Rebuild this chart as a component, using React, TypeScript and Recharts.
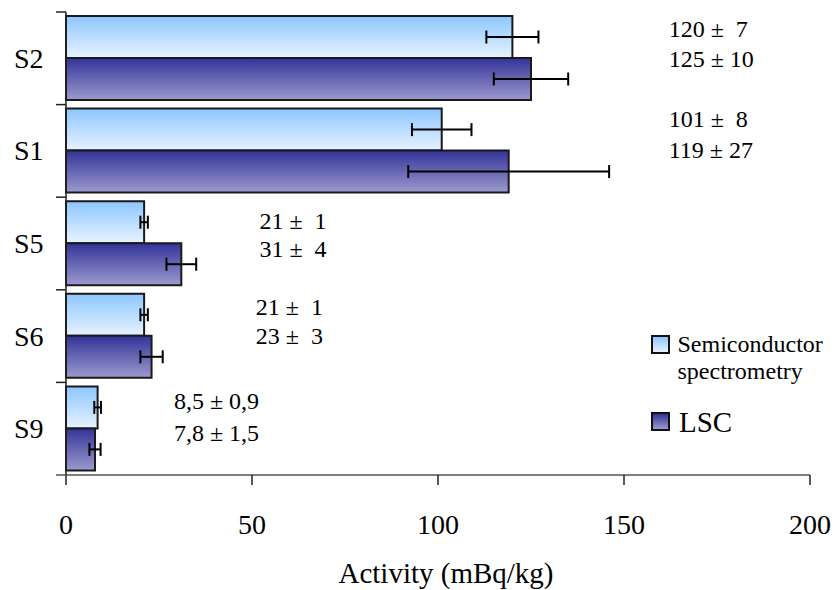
import React from 'react';
import { BarChart, Bar, XAxis, YAxis, ErrorBar, Legend, ReferenceDot, Label } from 'recharts';

// ---- data ----
const samples = ['S2', 'S1', 'S5', 'S6', 'S9'];
const semiValues = [120, 101, 21, 21, 8.5];
const semiErrors = [7, 8, 1, 1, 0.9];
const lscValues = [125, 119, 31, 23, 7.8];
const lscErrors = [10, 27, 4, 3, 1.5];
const semiLabels = ['120 \u00b1  7', '101 \u00b1  8', '21 \u00b1  1', '21 \u00b1  1', '8,5 \u00b1 0,9'];
const lscLabels = ['125 \u00b1 10', '119 \u00b1 27', '31 \u00b1  4', '23 \u00b1  3', '7,8 \u00b1 1,5'];
const xTicks = [0, 50, 100, 150, 200];

// ---- annotation layout (x in axis units, vertical offsets in px) ----
const annotX = [162, 162, 52, 51, 29];
const semiDy = [-21, -24, -14.5, -21, -20];
const lscDy = [9, 7, 13.5, 8, 12];

const data = samples.map((s, i) => ({
  sample: s,
  semi: semiValues[i],
  semiErr: semiErrors[i],
  lsc: lscValues[i],
  lscErr: lscErrors[i],
}));

const FONT = '"Liberation Serif", "Times New Roman", serif';
const Y_TICK_SIZE = 10;
const Y_TICK_MARGIN = 12.5;

const YTick = (props: any) => {
  const { x, y, payload } = props;
  const axisX = x + Y_TICK_SIZE + Y_TICK_MARGIN;
  const half = payload && payload.offset != null ? payload.offset : 46.3;
  const isLast = payload.value === samples[samples.length - 1];
  return (
    <g>
      <line x1={axisX - Y_TICK_SIZE} x2={axisX} y1={y - half} y2={y - half} stroke="#222" strokeWidth={1.5} />
      {isLast && (
        <line x1={axisX - Y_TICK_SIZE} x2={axisX} y1={y + half} y2={y + half} stroke="#555" strokeWidth={1.5} />
      )}
      <text x={x} y={y} dy="0.34em" textAnchor="end" fontSize={28} fontFamily={FONT} fill="#000">
        {payload.value}
      </text>
    </g>
  );
};

const makeAnnot = (text: string, dy: number) => (props: any) => {
  const { cx, cy } = props;
  return (
    <text
      x={cx}
      y={cy + dy}
      textAnchor="start"
      fontSize={24}
      fontFamily={FONT}
      fill="#000"
      style={{ whiteSpace: 'pre' }}
    >
      {text}
    </text>
  );
};

const LegendContent = () => (
  <div style={{ position: 'relative', width: 180, height: 110, fontFamily: FONT, color: '#000' }}>
    <div
      style={{
        position: 'absolute',
        left: 0,
        top: 0,
        width: 19,
        height: 19,
        border: '2px solid #111',
        boxSizing: 'border-box',
        background: 'linear-gradient(#8dc6ff, #e6f2ff)',
      }}
    />
    <div style={{ position: 'absolute', left: 26.5, top: -3.6, fontSize: 24, lineHeight: '27px', whiteSpace: 'nowrap' }}>
      Semiconductor
      <br />
      spectrometry
    </div>
    <div
      style={{
        position: 'absolute',
        left: 0,
        top: 77,
        width: 19,
        height: 19,
        border: '2px solid #111',
        boxSizing: 'border-box',
        background: 'linear-gradient(#333399, #9c9acc)',
      }}
    />
    <div style={{ position: 'absolute', left: 28, top: 71, fontSize: 29, lineHeight: '32px', whiteSpace: 'nowrap' }}>
      LSC
    </div>
  </div>
);

export default function App() {
  return (
    <div style={{ position: 'absolute', left: 0, top: 0, width: 836, height: 590, background: '#fff' }}>
      <BarChart
        width={836}
        height={590}
        data={data}
        layout="vertical"
        margin={{ top: 12, right: 26, left: 0, bottom: 0 }}
        barGap={0}
        barSize={42}
      >
        <defs>
          <linearGradient id="gSemi" x1="0" y1="0" x2="0" y2="1">
            <stop offset="0%" stopColor="#8cc6ff" />
            <stop offset="100%" stopColor="#e8f3ff" />
          </linearGradient>
          <linearGradient id="gLsc" x1="0" y1="0" x2="0" y2="1">
            <stop offset="0%" stopColor="#333399" />
            <stop offset="100%" stopColor="#9c9acd" />
          </linearGradient>
        </defs>
        <XAxis
          type="number"
          domain={[0, 200]}
          ticks={xTicks}
          interval={0}
          height={115}
          tickSize={10}
          tickMargin={29}
          axisLine={{ stroke: '#555', strokeWidth: 1.5 }}
          tickLine={{ stroke: '#222', strokeWidth: 1.5 }}
          tick={{ fontSize: 28, fill: '#000', fontFamily: FONT }}
        >
          <Label
            value="Activity (mBq/kg)"
            position="insideBottom"
            offset={7}
            dx={8}
            style={{ fontSize: 29, fill: '#000', fontFamily: FONT }}
          />
        </XAxis>
        <YAxis
          type="category"
          dataKey="sample"
          width={66}
          tickSize={Y_TICK_SIZE}
          tickMargin={Y_TICK_MARGIN}
          tickLine={false}
          axisLine={{ stroke: '#222', strokeWidth: 1.5 }}
          tick={<YTick />}
          interval={0}
        />
        <Legend
          layout="vertical"
          align="center"
          verticalAlign="middle"
          content={<LegendContent />}
          wrapperStyle={{ position: 'absolute', left: 651, top: 335, width: 180, height: 110 }}
        />
        <Bar dataKey="semi" name="Semiconductor spectrometry" fill="url(#gSemi)" stroke="#1a1a1a" strokeWidth={2} isAnimationActive={false}>
          <ErrorBar dataKey="semiErr" direction="x" width={6.5} stroke="#000" strokeWidth={2} />
        </Bar>
        <Bar dataKey="lsc" name="LSC" fill="url(#gLsc)" stroke="#1a1a1a" strokeWidth={2} isAnimationActive={false}>
          <ErrorBar dataKey="lscErr" direction="x" width={6.5} stroke="#000" strokeWidth={2} />
        </Bar>
        {samples.map((s, i) => (
          <ReferenceDot key={'a' + s} x={annotX[i]} y={s} r={1} ifOverflow="visible" shape={makeAnnot(semiLabels[i], semiDy[i])} />
        ))}
        {samples.map((s, i) => (
          <ReferenceDot key={'b' + s} x={annotX[i]} y={s} r={1} ifOverflow="visible" shape={makeAnnot(lscLabels[i], lscDy[i])} />
        ))}
      </BarChart>
    </div>
  );
}
